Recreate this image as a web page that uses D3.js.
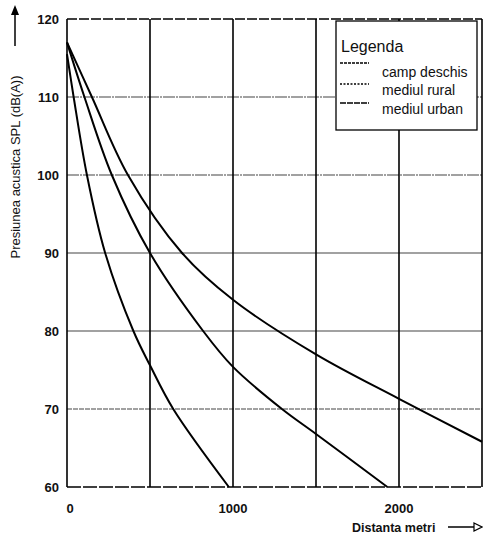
<!DOCTYPE html>
<html>
<head>
<meta charset="utf-8">
<script src="https://cdn.jsdelivr.net/npm/d3@7"></script>
<style>
  body { margin: 0; background: #fff; }
  svg { display: block; }
  .tick-label { font-family: "Liberation Sans", Arial, sans-serif; font-weight: bold; font-size: 13px; fill: #111; }
  .lbl { font-family: "Liberation Sans", Arial, sans-serif; font-size: 13px; fill: #111; }
</style>
</head>
<body>
<div id="chart"></div>
<script>
// values
const yTicks = [60, 70, 80, 90, 100, 110, 120];
const xTickLabels = [0, 1000, 2000];
const xGrid = [500, 1000, 1500, 2000, 2500];

// camp deschis
const campDist = [0, 150, 367, 693, 1000, 1500, 2000, 2500];
const campSpl  = [117, 110, 100, 90, 84, 77, 71.3, 65.8];
// mediul rural
const ruralDist = [0, 105, 270, 500, 820, 1000, 1295, 1500, 1930];
const ruralSpl  = [117, 110, 100, 90, 80, 75.4, 70, 66.8, 60];
// mediul urban
const urbanDist = [0, 40, 120, 230, 400, 500, 640, 975];
const urbanSpl  = [115.5, 110, 100, 90, 80, 75.6, 70, 60];

const legendNames = ['camp deschis', 'mediul rural', 'mediul urban'];

const width = 483, height = 535;

const svg = d3.select('#chart')
  .append('svg')
  .attr('width', width)
  .attr('height', height);

const x = d3.scaleLinear().domain([0, 2500]).range([67, 482]);
const y = d3.scaleLinear().domain([60, 120]).range([487, 19]);

// horizontal grid (grey, a bit broken like the scan)
svg.append('g')
  .selectAll('line')
  .data(yTicks.filter(d => d > 60 && d < 120))
  .join('line')
  .attr('x1', x(0)).attr('x2', x(2500))
  .attr('y1', d => y(d)).attr('y2', d => y(d))
  .attr('stroke', '#444')
  .attr('stroke-width', 1.2)
  .attr('stroke-dasharray', d => d === 70 ? '5,1' : (d >= 100 ? '12,1,2,1' : null));

// vertical grid (black)
svg.append('g')
  .selectAll('line')
  .data(xGrid)
  .join('line')
  .attr('x1', d => x(d)).attr('x2', d => x(d))
  .attr('y1', y(120)).attr('y2', y(60))
  .attr('stroke', '#000')
  .attr('stroke-width', 1.6);

// frame: left solid, top / bottom slightly dashed
svg.append('line')
  .attr('x1', x(0)).attr('x2', x(0))
  .attr('y1', y(120)).attr('y2', y(60))
  .attr('stroke', '#000').attr('stroke-width', 1.6);
svg.append('line')
  .attr('x1', x(0)).attr('x2', x(2500))
  .attr('y1', y(60)).attr('y2', y(60))
  .attr('stroke', '#000').attr('stroke-width', 1.6)
  .attr('stroke-dasharray', '14,2');
svg.append('line')
  .attr('x1', x(0)).attr('x2', x(2500))
  .attr('y1', y(120)).attr('y2', y(120))
  .attr('stroke', '#000').attr('stroke-width', 1.4)
  .attr('stroke-dasharray', '10,2');

// tick labels
svg.append('g')
  .selectAll('text')
  .data(yTicks)
  .join('text')
  .attr('class', 'tick-label')
  .attr('x', 59)
  .attr('y', d => y(d) + 5)
  .attr('text-anchor', 'end')
  .text(d => d);

svg.append('g')
  .selectAll('text')
  .data(xTickLabels)
  .join('text')
  .attr('class', 'tick-label')
  .attr('x', d => d === 0 ? x(d) + 3 : x(d))
  .attr('y', 513)
  .attr('text-anchor', 'middle')
  .text(d => d);

// curves
const line = d3.line()
  .x(d => x(d[0]))
  .y(d => y(d[1]))
  .curve(d3.curveCatmullRom.alpha(0.5));

const series = [
  d3.zip(campDist, campSpl),
  d3.zip(ruralDist, ruralSpl),
  d3.zip(urbanDist, urbanSpl)
];

svg.append('g')
  .selectAll('path')
  .data(series)
  .join('path')
  .attr('d', line)
  .attr('fill', 'none')
  .attr('stroke', '#000')
  .attr('stroke-width', 2);

// legend
const lg = svg.append('g');
lg.append('rect')
  .attr('x', 336).attr('y', 21)
  .attr('width', 141).attr('height', 109)
  .attr('fill', '#fff')
  .attr('stroke', '#000')
  .attr('stroke-width', 1.3);
lg.append('text')
  .attr('class', 'lbl')
  .attr('x', 341).attr('y', 52)
  .style('font-size', '16px')
  .text('Legenda');

const dashes = ['3,1', '2,1.5', '6,1'];
legendNames.forEach((name, i) => {
  const yy = [63, 84, 103][i];
  lg.append('line')
    .attr('x1', 340).attr('x2', 369)
    .attr('y1', yy).attr('y2', yy)
    .attr('stroke', '#000')
    .attr('stroke-width', 1.3)
    .attr('stroke-dasharray', dashes[i]);
  lg.append('text')
    .attr('class', 'lbl')
    .attr('x', 382).attr('y', [77, 95, 114][i])
    .style('font-size', '14px')
    .text(name);
});

// axis titles with arrows
svg.append('text')
  .attr('class', 'lbl')
  .attr('transform', 'translate(20,167) rotate(-90)')
  .attr('text-anchor', 'middle')
  .style('font-size', '13px')
  .text('Presiunea acustica SPL (dB(A))');
svg.append('line')
  .attr('x1', 15).attr('x2', 15)
  .attr('y1', 46).attr('y2', 12)
  .attr('stroke', '#000').attr('stroke-width', 1.5);
svg.append('path')
  .attr('d', 'M11,15 L15,5 L19,15 Z')
  .attr('fill', '#000');

svg.append('text')
  .attr('class', 'lbl')
  .attr('x', 352).attr('y', 532)
  .style('font-size', '12.5px')
  .style('font-weight', 'bold')
  .text('Distanta metri');
svg.append('line')
  .attr('x1', 448).attr('x2', 475)
  .attr('y1', 527).attr('y2', 527)
  .attr('stroke', '#000').attr('stroke-width', 1.5);
svg.append('path')
  .attr('d', 'M474,523 L482,527 L474,531 Z')
  .attr('fill', '#fff')
  .attr('stroke', '#000')
  .attr('stroke-width', 1.2);
</script>
</body>
</html>
